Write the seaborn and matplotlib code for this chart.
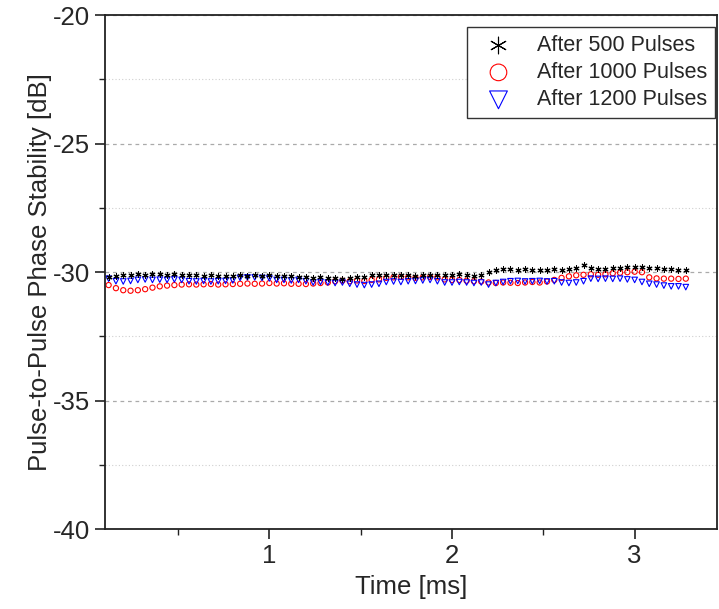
import numpy as np
import pandas as pd
import matplotlib
matplotlib.use("Agg")
import matplotlib.pyplot as plt
import seaborn as sns
from matplotlib.ticker import MultipleLocator

# ---- data ----
time_ms = np.round(0.12 + 0.04 * np.arange(80), 3)

pulses_500 = [-30.2, -30.15,
              -30.12, -30.1, -30.08, -30.1, -30.06, -30.08, -30.1, -30.07, -30.1,
              -30.12, -30.1, -30.14, -30.12, -30.15, -30.13, -30.16, -30.12, -30.14, -30.12,
              -30.14, -30.12, -30.15, -30.13, -30.16, -30.2, -30.18, -30.22, -30.2,
              -30.24, -30.22, -30.25, -30.24, -30.2, -30.18, -30.12, -30.1, -30.12,
              -30.1, -30.12, -30.1, -30.14, -30.12, -30.1, -30.12, -30.1, -30.12,
              -30.08, -30.1, -30.14, -30.12, -30.0, -29.92,
              -29.88, -29.86, -29.9, -29.88, -29.9, -29.92, -29.9, -29.88, -29.9, -29.88, -29.85,
              -29.72, -29.82,
              -29.88, -29.86, -29.84, -29.82, -29.8, -29.78, -29.8, -29.82, -29.84, -29.86,
              -29.88, -29.9, -29.9]

pulses_1000 = [-30.5, -30.62, -30.7, -30.72, -30.7, -30.66, -30.6, -30.55, -30.52, -30.5,
               -30.48, -30.47, -30.48, -30.47, -30.46, -30.48, -30.47, -30.46, -30.45, -30.44,
               -30.45, -30.44, -30.42, -30.44, -30.43, -30.45,
               -30.45, -30.46, -30.44, -30.42, -30.4,
               -30.35, -30.33, -30.35, -30.32, -30.34, -30.3, -30.28,
               -30.22, -30.2, -30.18, -30.2, -30.22, -30.2, -30.18, -30.2,
               -30.28, -30.3, -30.3, -30.33, -30.35, -30.36,
               -30.4, -30.42, -30.4, -30.41, -30.42, -30.4, -30.38, -30.4, -30.36,
               -30.3, -30.22, -30.16, -30.12,
               -30.1, -30.08, -30.1, -30.08,
               -30.04, -30.02, -30.0, -29.98, -30.0,
               -30.2, -30.24, -30.25, -30.25, -30.26, -30.25]

pulses_1200 = [-30.25,
               -30.35, -30.36, -30.34,
               -30.3, -30.28, -30.3, -30.29, -30.3, -30.28, -30.3,
               -30.35, -30.36, -30.34, -30.36, -30.35, -30.34, -30.32,
               -30.22, -30.2, -30.2, -30.22, -30.24,
               -30.3, -30.3, -30.32, -30.3, -30.35,
               -30.4, -30.38, -30.4, -30.42, -30.4, -30.45,
               -30.48, -30.5, -30.48, -30.45,
               -30.38, -30.36, -30.38, -30.35, -30.34, -30.32, -30.3,
               -30.35, -30.4, -30.4, -30.38, -30.4, -30.42, -30.4,
               -30.48, -30.42, -30.38,
               -30.35, -30.34, -30.36, -30.35, -30.34, -30.36, -30.35,
               -30.4, -30.42, -30.4, -30.35,
               -30.25, -30.26, -30.25, -30.26, -30.25, -30.28, -30.3,
               -30.38, -30.45, -30.48,
               -30.52, -30.55, -30.55, -30.58]

labels = ["After 500 Pulses", "After 1000 Pulses", "After 1200 Pulses"]
x_ticks = [1, 2, 3]
y_ticks = [-40, -35, -30, -25, -20]

# ---- style ----
sns.set_theme(style="white")
plt.rcParams["font.family"] = ["Liberation Sans", "DejaVu Sans"]
plt.rcParams["axes.unicode_minus"] = False

fig = plt.figure(figsize=(7.19, 6.09), dpi=100)
ax = fig.add_axes([0.146, 0.131, 0.851, 0.844])

sns.scatterplot(x=time_ms, y=pulses_500, marker=(6, 2, 0), s=14, color="black",
                linewidth=0.8, ax=ax, label=labels[0], zorder=3)
sns.scatterplot(x=time_ms, y=pulses_1000, marker="o", s=14, facecolor="none",
                edgecolor="red", linewidth=0.8, ax=ax, label=labels[1], zorder=2)
sns.scatterplot(x=time_ms, y=pulses_1200, marker="v", s=16, facecolor="none",
                edgecolor="blue", linewidth=0.8, ax=ax, label=labels[2], zorder=2)

ax.set_xlim(0.1, 3.45)
ax.set_ylim(-40, -20)
ax.set_xticks(x_ticks)
ax.set_yticks(y_ticks)
ax.xaxis.set_minor_locator(MultipleLocator(0.5))
ax.yaxis.set_minor_locator(MultipleLocator(2.5))

ax.grid(False)
ax.yaxis.grid(True, which="major", linestyle=(0, (3, 3)), color="#aaaaaa", linewidth=0.9)
ax.yaxis.grid(True, which="minor", linestyle=(0, (1, 2)), color="#d0d0d0", linewidth=0.8)
ax.set_axisbelow(True)

for sp in ax.spines.values():
    sp.set_visible(True)
    sp.set_color("#222222")
    sp.set_linewidth(1.3)

ax.tick_params(axis="both", which="major", direction="out", length=7, width=1.2,
               color="#222222", labelsize=18.5, bottom=True, left=True, top=False, right=False,
               pad=4)
ax.tick_params(axis="both", which="minor", direction="out", length=4, width=1.0,
               color="#222222", bottom=True, left=True, top=False, right=False)

ax.set_xlabel("Time [ms]", fontsize=18.5, labelpad=5)
ax.set_ylabel("Pulse-to-Pulse Phase Stability [dB]", fontsize=18.5, labelpad=0)

leg = ax.legend(loc="upper right", bbox_to_anchor=(0.997, 0.977), borderaxespad=0,
                markerscale=3.2, fontsize=15.5, frameon=True, fancybox=False,
                edgecolor="#333333", framealpha=1, handletextpad=0.7,
                borderpad=0.35, labelspacing=0.3, handlelength=2.2)
leg.get_frame().set_linewidth(1.0)

fig.savefig("out.png", dpi=100)
